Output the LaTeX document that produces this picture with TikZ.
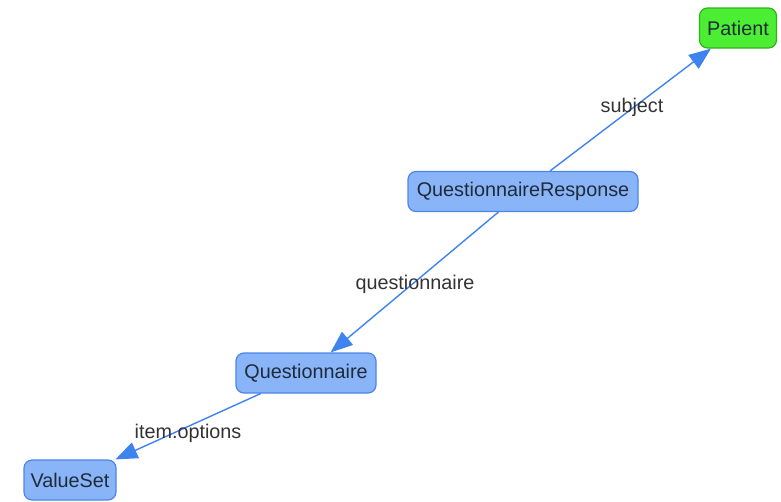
\documentclass[tikz,border=0pt]{standalone}
\usepackage{fontspec}
\setmainfont{Liberation Sans}
\usetikzlibrary{arrows.meta}
\definecolor{bfill}{HTML}{8AB4F8}
\definecolor{bdraw}{HTML}{4A86E8}
\definecolor{gfill}{HTML}{4CEE34}
\definecolor{gdraw}{HTML}{34B01E}
\definecolor{edgec}{HTML}{3F83F0}
\definecolor{ntext}{HTML}{1E2B3A}
\definecolor{ltext}{HTML}{333333}
\begin{document}
\begin{tikzpicture}[x=1pt,y=-1pt,
  box/.style={draw=bdraw,fill=bfill,line width=1.2pt,rounded corners=8pt,
    text=ntext,font=\fontsize{19.8}{22}\selectfont,inner sep=0pt,
    minimum height=40pt},
  gbox/.style={box,draw=gdraw,fill=gfill},
  link/.style={draw=edgec,line width=1.4pt,-{Triangle[length=22pt,width=17pt]}},
  lab/.style={text=ltext,font=\fontsize{19.8}{22}\selectfont,inner sep=0pt}]
\useasboundingbox (0,0) rectangle (781,501);
\node[gbox,minimum width=77pt] (pat) at (738,28) {Patient};
\node[box,minimum width=230pt] (qr) at (523,191.5) {QuestionnaireResponse};
\node[box,minimum width=140pt] (q) at (306,373) {Questionnaire};
\node[box,minimum width=92pt] (vs) at (70,480) {ValueSet};
\draw[link] (qr) -- (pat);
\draw[link] (qr) -- (q);
\draw[link] (q) -- (vs);
\node[lab] (l1) at (632,107) {subject};
\node[lab] (l2) at (415,284) {questionnaire};
\node[lab] (l3) at (188,433) {item.options};
\end{tikzpicture}
\end{document}
